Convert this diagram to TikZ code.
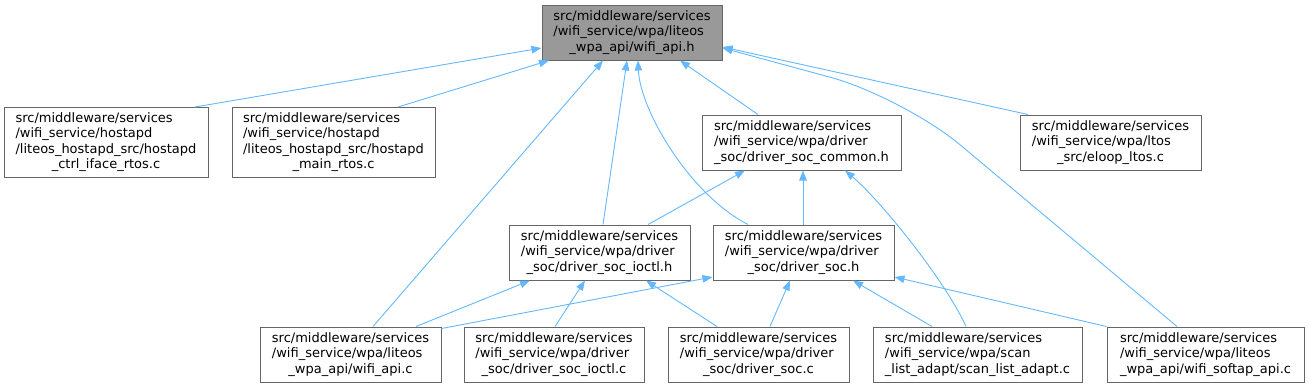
\documentclass[tikz,border=0pt]{standalone}
\usepackage{fontspec}
\setmainfont{DejaVu Sans}
\usetikzlibrary{arrows.meta}
\definecolor{edgeblue}{HTML}{63B8FF}
\definecolor{boxborder}{HTML}{666666}
\definecolor{rootfill}{HTML}{999999}
\newcommand{\dlabel}[2]{\begin{tabular}{@{}l@{}}#1\\\multicolumn{1}{@{}c@{}}{#2}\end{tabular}}
\begin{document}
\begin{tikzpicture}[x=1pt,y=-1pt,
 box/.style={draw=boxborder, line width=1pt, fill=white, inner sep=0pt, align=center,
   font=\fontsize{13}{15.5}\selectfont, minimum height=55pt},
 rootbox/.style={box, fill=rootfill},
 edge/.style={draw=edgeblue, line width=0.9pt, -{Triangle[length=10pt,width=7.5pt]}}]
\useasboundingbox (0,0) rectangle (1309,388);

\node[rootbox, minimum width=180pt] (root) at (632,32.5)
  {\dlabel{src/middleware/services\\/wifi\_service/wpa/liteos}{\_wpa\_api/wifi\_api.h}};
\node[box, minimum width=204pt, minimum height=70pt] (A) at (106,142.5)
  {\dlabel{src/middleware/services\\/wifi\_service/hostapd\\/liteos\_hostapd\_src/hostapd}{\_ctrl\_iface\_rtos.c}};
\node[box, minimum width=203pt, minimum height=70pt] (B) at (333.5,142.5)
  {\dlabel{src/middleware/services\\/wifi\_service/hostapd\\/liteos\_hostapd\_src/hostapd}{\_main\_rtos.c}};
\node[box, minimum width=199pt] (C) at (801.5,142.5)
  {\dlabel{src/middleware/services\\/wifi\_service/wpa/driver}{\_soc/driver\_soc\_common.h}};
\node[box, minimum width=181pt] (D) at (1110.5,142.5)
  {\dlabel{src/middleware/services\\/wifi\_service/wpa/ltos}{\_src/eloop\_ltos.c}};
\node[box, minimum width=181pt] (E) at (599.5,252.5)
  {\dlabel{src/middleware/services\\/wifi\_service/wpa/driver}{\_soc/driver\_soc\_ioctl.h}};
\node[box, minimum width=181pt] (F) at (803.5,252.5)
  {\dlabel{src/middleware/services\\/wifi\_service/wpa/driver}{\_soc/driver\_soc.h}};
\node[box, minimum width=181pt] (G) at (350.5,354.5)
  {\dlabel{src/middleware/services\\/wifi\_service/wpa/liteos}{\_wpa\_api/wifi\_api.c}};
\node[box, minimum width=180pt] (H) at (554,354.5)
  {\dlabel{src/middleware/services\\/wifi\_service/wpa/driver}{\_soc/driver\_soc\_ioctl.c}};
\node[box, minimum width=181pt] (I) at (758.5,354.5)
  {\dlabel{src/middleware/services\\/wifi\_service/wpa/driver}{\_soc/driver\_soc.c}};
\node[box, minimum width=209pt] (J) at (977.5,354.5)
  {\dlabel{src/middleware/services\\/wifi\_service/wpa/scan}{\_list\_adapt/scan\_list\_adapt.c}};
\node[box, minimum width=197pt] (K) at (1205.5,354.5)
  {\dlabel{src/middleware/services\\/wifi\_service/wpa/liteos}{\_wpa\_api/wifi\_softap\_api.c}};

\coordinate (kbend) at (903,97);

% edges to root
\draw[edge] ([xshift=89pt]A.north) -- ([yshift=-15.5pt]root.west);
\draw[edge] ([xshift=64.5pt]B.north) -- ([xshift=-83pt]root.south);
\draw[edge] ([xshift=22.5pt]G.north) -- ([xshift=-29pt]root.south);
\draw[edge] ([xshift=3.5pt]E.north) -- ([xshift=-5pt]root.south);
\draw[edge] ([xshift=-55.5pt]F.north) .. controls (690,195) and (640,110) .. ([xshift=6pt]root.south);
\draw[edge] ([xshift=-43.5pt]C.north) -- ([xshift=48pt]root.south);
\draw[edge] ([xshift=-82.5pt]D.north) -- ([yshift=-14.5pt]root.east);
\draw[edge, rounded corners=75pt] ([xshift=-28.5pt]K.north) -- (kbend) -- ([yshift=-15.5pt]root.east);
% edges to driver_soc_common.h
\draw[edge] ([xshift=48.5pt]E.north) -- ([xshift=-56.5pt]C.south);
\draw[edge] ([xshift=-0.5pt]F.north) -- ([xshift=1.5pt]C.south);
\draw[edge] ([xshift=-11.5pt]J.north) .. controls (945,280) and (880,200) .. ([xshift=43.5pt]C.south);
% edges to driver_soc_ioctl.h
\draw[edge] ([xshift=65.5pt]G.north) -- ([xshift=-69.5pt]E.south);
\draw[edge] ([xshift=1pt]H.north) -- ([xshift=-14.5pt]E.south);
\draw[edge] ([xshift=-41.5pt]I.north) -- ([xshift=46.5pt]E.south);
% edges to driver_soc.h
\draw[edge] ([yshift=-2pt]G.north east) -- ([yshift=-24.5pt]F.west);
\draw[edge] ([xshift=11.5pt]I.north) -- ([xshift=-13.5pt]F.south);
\draw[edge] ([xshift=-45.5pt]J.north) -- ([xshift=49.5pt]F.south);
\draw[edge] (K.north west) -- ([yshift=-24.5pt]F.east);
\end{tikzpicture}
\end{document}
